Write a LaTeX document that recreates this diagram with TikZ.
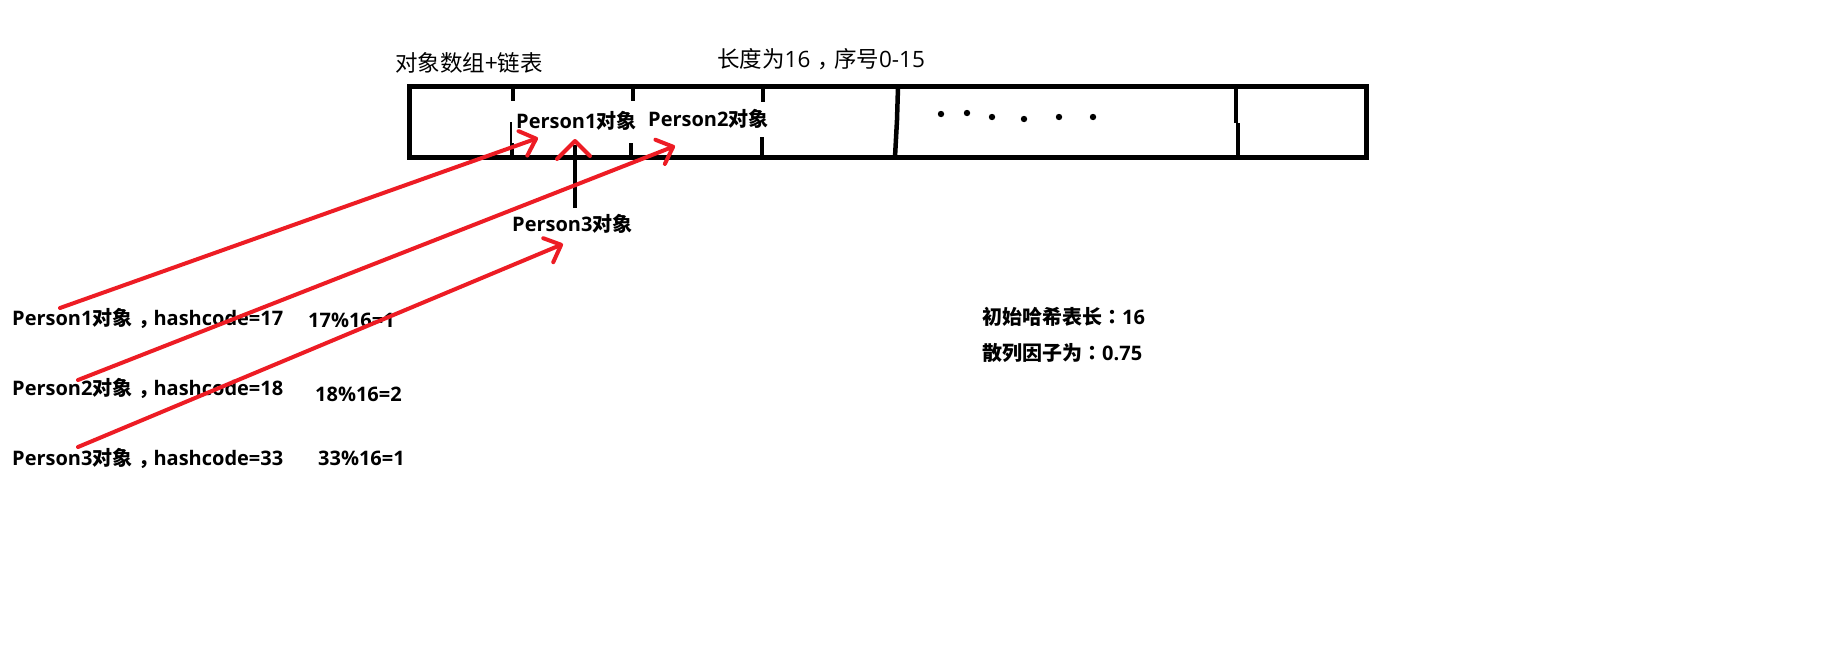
\documentclass[tikz,border=0pt]{standalone}
\usepackage{fontspec}
\setmainfont{Open Sans}
\newfontfamily\cjk{Noto Sans CJK SC}
\newfontfamily\cjkp{Noto Sans CJK TC}
\usetikzlibrary{arrows.meta}
\definecolor{pred}{RGB}{237,28,36}
\newcommand{\zh}[1]{{\cjk #1}}
\newcommand{\zp}[1]{{\cjkp #1}}
\newcommand{\zcomma}{\hspace{0.3em}{\cjk ，}\hspace{-0.25em}}
\begin{document}
\begin{tikzpicture}[x=1pt,y=-1pt,
  lbl/.style={anchor=west, inner sep=0pt, font=\bfseries\fontsize{20}{24}\selectfont},
  toplbl/.style={anchor=west, inner sep=0pt, font=\fontsize{22.5}{27}\selectfont},
  arrbox/.style={draw, line width=5pt, minimum width=957.5pt, minimum height=71pt, inner sep=0pt},
  divider/.style={line width=4.5pt},
  thindiv/.style={line width=1.5pt},
  redarrow/.style={draw=pred, line width=4pt, line cap=round,
    -{Straight Barb[length=14pt,width=26pt,round]}},
  redhead/.style={draw=pred, line width=4pt, line cap=round, line join=round},
  stem/.style={line width=4pt}]
\fill[white] (0,0) rectangle (1843,648);
\useasboundingbox (0,0) rectangle (1843,648);

% array
\node[arrbox] (arr) at (887.75,122) {};
% dividers
\draw[divider] (513,87) -- (513,101);
\draw[thindiv] (511,122) -- (511,143);
\draw[divider] (512,143) -- (512,157);
\draw[divider] (633,87) -- (633,101);
\draw[divider] (631,143) -- (631,157);
\draw[divider] (763,87) -- (763,102);
\draw[divider] (762,137) -- (762,157);
\draw[divider] (898,87) -- (897,120) -- (895,157);
\draw[divider] (1236,87) -- (1236,123);
\draw[divider] (1238,123) -- (1238,157);
% dots
\foreach \dx/\dy in {941/114, 967/113, 992/117, 1024/119, 1059/117, 1093/117}
  \fill (\dx,\dy) circle (3.2);

% titles
\node[toplbl] (title) at (395,63) {\zh{对象数组+链表}};
\node[toplbl] (len) at (717,59) {\zh{长度为}16\zcomma\zh{序号}0-15};

% in-array labels
\node[lbl] (p1) at (516,121) {Person1\zh{对象}};
\node[lbl] (p2) at (648,119) {Person2\zh{对象}};
\node[lbl] (p3) at (512,224) {Person3\zh{对象}};

% left labels
\node[lbl] (h1) at (12,318) {Person1\zh{对象}\zcomma hashcode=17};
\node[lbl] (m1) at (308,320) {17\%16=1};
\node[lbl] (h2) at (12,388) {Person2\zh{对象}\zcomma hashcode=18};
\node[lbl] (m2) at (315,394) {18\%16=2};
\node[lbl] (h3) at (12,458) {Person3\zh{对象}\zcomma hashcode=33};
\node[lbl] (m3) at (318,458) {33\%16=1};

% right info
\node[lbl] (i1) at (982,317) {\zh{初始哈希表长}\zp{：}16};
\node[lbl] (i2) at (982,353) {\zh{散列因子为}\zp{：}0.75};

% chain link from Person3 up to the array
\coordinate (vbot) at (575,208);
\coordinate (vtop) at (575,145);
\draw[stem] (vbot) -- (vtop);
\draw[redhead] (557,159) -- (575,141) -- (590,156);

% red arrows
\coordinate (s1) at (60,308);  \coordinate (t1) at (538,138);
\coordinate (s2) at (78,380);  \coordinate (t2) at (675,146);
\coordinate (s3) at (78,447);  \coordinate (t3) at (563,244);
\draw[redarrow] (s1) -- (t1);
\draw[redarrow] (s2) -- (t2);
\draw[redarrow] (s3) -- (t3);
\end{tikzpicture}
\end{document}
